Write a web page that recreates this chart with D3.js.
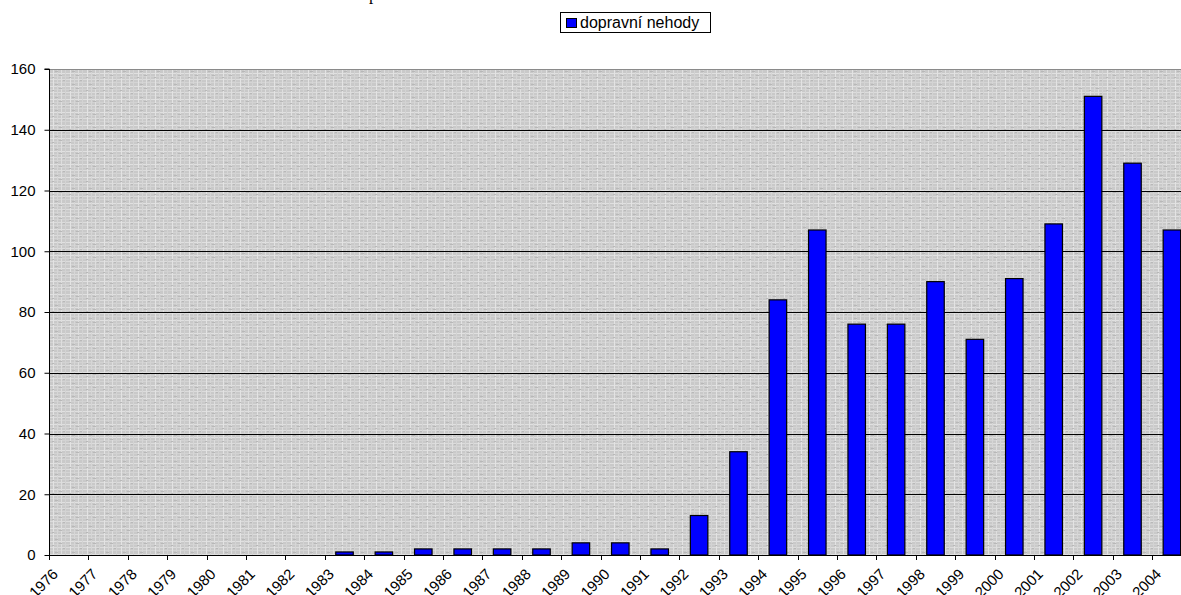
<!DOCTYPE html>
<html>
<head>
<meta charset="utf-8">
<script src="https://cdn.jsdelivr.net/npm/d3@7"></script>
<style>
  body { margin: 0; background: #fff; }
  svg { display: block; }
</style>
</head>
<body>
<div id="chart"></div>
<script>
// data
const years = ["1976","1977","1978","1979","1980","1981","1982","1983","1984","1985",
               "1986","1987","1988","1989","1990","1991","1992","1993","1994","1995",
               "1996","1997","1998","1999","2000","2001","2002","2003","2004"];
const accidents = [0,0,0,0,0,0,0,1,1,2,
                   2,2,2,4,4,2,13,34,84,107,
                   76,76,90,71,91,109,151,129,107];
const yTicks = [0,20,40,60,80,100,120,140,160];
const seriesName = "dopravní nehody";

const width = 1181, height = 595;
const margin = {top: 69, left: 49, bottom: 40};
const plotRight = 49 + 29 * 39.4;   // last category runs past the window edge

const svg = d3.select("#chart").append("svg")
    .attr("width", width)
    .attr("height", height);

// grainy grey fill like the Excel pattern
const defs = svg.append("defs");
const pat = defs.append("pattern")
    .attr("id", "grain")
    .attr("patternUnits", "userSpaceOnUse")
    .attr("width", 17).attr("height", 13);
pat.append("rect").attr("width", 17).attr("height", 13).attr("fill", "#c9c9c9");
[[0,1,"#dcdcdc"],[0,4,"#d4d4d4"],[0,8,"#e0e0e0"],[0,11,"#d2d2d2"]].forEach(function(r) {
    pat.append("rect").attr("x", r[0]).attr("y", r[1]).attr("width", 17).attr("height", 1).attr("fill", r[2]);
});
[[2,"#e3e3e3"],[6,"#d6d6d6"],[10,"#dedede"],[14,"#d3d3d3"]].forEach(function(c) {
    pat.append("rect").attr("x", c[0]).attr("y", 0).attr("width", 1).attr("height", 13).attr("fill", c[1]);
});
[[4,6,3],[12,2,2],[8,10,3],[1,12,2]].forEach(function(s) {
    pat.append("rect").attr("x", s[0]).attr("y", s[1]).attr("width", s[2]).attr("height", 1).attr("fill", "#b8b8b8");
});

const x = d3.scaleBand()
    .domain(years)
    .range([margin.left, plotRight])
    .paddingInner(0.5556)
    .paddingOuter(0.2778);
const step = x.step();
const edge = d => x(d) - step * x.paddingOuter();

const y = d3.scaleLinear()
    .domain([0, 160])
    .range([height - margin.bottom, margin.top]);

svg.append("rect")
    .attr("x", margin.left)
    .attr("y", margin.top)
    .attr("width", plotRight - margin.left)
    .attr("height", y(0) - margin.top)
    .attr("fill", "url(#grain)");

// top border of the plot
svg.append("line")
    .attr("x1", margin.left).attr("x2", plotRight)
    .attr("y1", margin.top + 0.5).attr("y2", margin.top + 0.5)
    .attr("stroke", "#8a8a8a");

// gridlines
svg.append("g")
    .selectAll("line")
    .data(yTicks.filter(d => d > 0 && d < 160))
    .join("line")
    .attr("x1", margin.left).attr("x2", plotRight)
    .attr("y1", d => Math.round(y(d)) + 0.5)
    .attr("y2", d => Math.round(y(d)) + 0.5)
    .attr("stroke", "#000")
    .attr("stroke-width", 1);

// bars
svg.append("g")
    .selectAll("rect")
    .data(years.map((yr, i) => ({year: yr, value: accidents[i]})).filter(d => d.value > 0))
    .join("rect")
    .attr("x", d => x(d.year))
    .attr("y", d => y(d.value))
    .attr("width", x.bandwidth())
    .attr("height", d => y(0) - y(d.value))
    .attr("fill", "#0000ff")
    .attr("stroke", "#000")
    .attr("stroke-width", 1.2);

// y axis
const yAxis = svg.append("g")
    .attr("transform", "translate(" + (margin.left + 0.5) + ",0)")
    .call(d3.axisLeft(y).tickValues(yTicks).tickSize(5).tickPadding(9));
yAxis.select(".domain").attr("stroke", "#000").attr("d", "M-5," + y(160) + "H0V" + y(0));
yAxis.selectAll("text")
    .attr("font-family", "Liberation Sans, Arial, sans-serif")
    .attr("font-size", 15)
    .attr("fill", "#000");

// x axis: ticks sit on category boundaries
const xAxisG = svg.append("g");
xAxisG.append("line")
    .attr("x1", margin.left).attr("x2", plotRight)
    .attr("y1", y(0) + 0.5).attr("y2", y(0) + 0.5)
    .attr("stroke", "#000");
xAxisG.selectAll("line.tick")
    .data(years)
    .join("line")
    .attr("class", "tick")
    .attr("x1", d => Math.round(edge(d)) + 0.5)
    .attr("x2", d => Math.round(edge(d)) + 0.5)
    .attr("y1", y(0))
    .attr("y2", y(0) + 5)
    .attr("stroke", "#000");
xAxisG.selectAll("text")
    .data(years)
    .join("text")
    .attr("transform", d => "translate(" + (edge(d) + 10) + "," + (y(0) + 20) + ") rotate(-45)")
    .attr("text-anchor", "end")
    .attr("font-family", "Liberation Sans, Arial, sans-serif")
    .attr("font-size", 15)
    .attr("fill", "#000")
    .text(d => d);

// legend
const legend = svg.append("g");
legend.append("rect")
    .attr("x", 560.5).attr("y", 12.5)
    .attr("width", 150).attr("height", 20)
    .attr("fill", "#fff")
    .attr("stroke", "#000");
legend.append("rect")
    .attr("x", 566.5).attr("y", 18.5)
    .attr("width", 10).attr("height", 9)
    .attr("fill", "#0000ff")
    .attr("stroke", "#000");
legend.append("text")
    .attr("x", 580).attr("y", 28)
    .attr("font-family", "Liberation Sans, Arial, sans-serif")
    .attr("font-size", 16)
    .attr("fill", "#000")
    .text(seriesName);

// bit of cut-off text above the chart
svg.append("text")
    .attr("x", 369).attr("y", 0)
    .attr("font-family", "Liberation Serif, Times New Roman, serif")
    .attr("font-size", 17)
    .attr("fill", "#000")
    .text("p");
</script>
</body>
</html>
